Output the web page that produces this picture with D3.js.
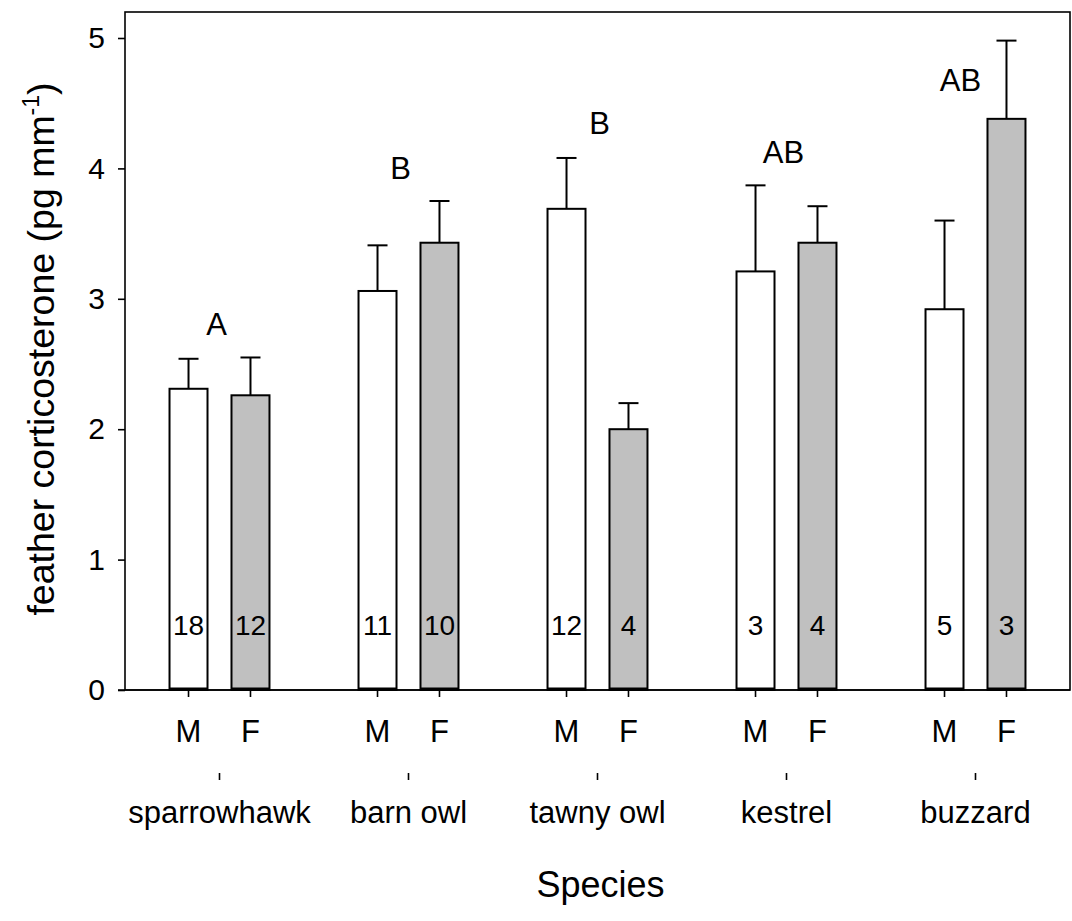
<!DOCTYPE html>
<html>
<head>
<meta charset="utf-8">
<script src="https://cdn.jsdelivr.net/npm/d3@7"></script>
<style>
  html, body { margin: 0; padding: 0; background: #fff; }
  svg { display: block; }
  text { font-family: "Liberation Sans", Arial, sans-serif; fill: #000; }
</style>
</head>
<body>
<svg id="chart" width="1072" height="921"></svg>
<script>
// ---- data ----
const species = ["sparrowhawk", "barn owl", "tawny owl", "kestrel", "buzzard"];
const sexes = ["M", "F"];
const maleMean = [2.31, 3.06, 3.69, 3.21, 2.92];
const maleUpper = [2.54, 3.41, 4.08, 3.87, 3.60];
const femaleMean = [2.26, 3.43, 2.00, 3.43, 4.38];
const femaleUpper = [2.55, 3.75, 2.20, 3.71, 4.98];
const maleN = [18, 11, 12, 3, 5];
const femaleN = [12, 10, 4, 4, 3];
const groupLetters = ["A", "B", "B", "AB", "AB"];
const letterLevel = [2.72, 3.92, 4.26, 4.04, 4.59];
const yTicks = [0, 1, 2, 3, 4, 5];
const yTitle = "feather corticosterone (pg mm";
const xTitle = "Species";

// ---- layout ----
const svg = d3.select("#chart");
const L = 125, R = 1070, T = 12, B = 690;
const letterShift = [-3, -8, 2, -3, -15]; // layout nudges (px) for letters

const y = d3.scaleLinear().domain([0, 5]).range([B, B - 5 * 130.4]);
const x0 = d3.scaleBand().domain(species).range([L, R]).padding(0);
const x1 = d3.scaleBand().domain(sexes).range([-62, 62]).paddingInner(0.387).paddingOuter(0.194);

const rows = [];
species.forEach((s, i) => {
  rows.push({sp: s, sex: "M", mean: maleMean[i], up: maleUpper[i], n: maleN[i]});
  rows.push({sp: s, sex: "F", mean: femaleMean[i], up: femaleUpper[i], n: femaleN[i]});
});
const cx = d => x0(d.sp) + x0.bandwidth() / 2 + x1(d.sex) + x1.bandwidth() / 2;

// frame
svg.append("rect").attr("x", L).attr("y", T).attr("width", R - L).attr("height", B - T)
  .attr("fill", "none").attr("stroke", "#000").attr("stroke-width", 1.6);

// error bars
const eb = svg.append("g").attr("stroke", "#000").attr("stroke-width", 2);
rows.forEach(d => {
  eb.append("line").attr("x1", cx(d)).attr("x2", cx(d)).attr("y1", y(d.mean)).attr("y2", y(d.up));
  eb.append("line").attr("x1", cx(d) - 10).attr("x2", cx(d) + 10).attr("y1", y(d.up)).attr("y2", y(d.up));
});

// bars
svg.append("g").selectAll("rect").data(rows).join("rect")
  .attr("x", d => cx(d) - x1.bandwidth() / 2)
  .attr("width", x1.bandwidth())
  .attr("y", d => y(d.mean))
  .attr("height", d => y(0) - y(d.mean))
  .attr("fill", d => d.sex === "M" ? "#ffffff" : "#c0c0c0")
  .attr("stroke", "#000").attr("stroke-width", 2);

// thick base of bars
svg.append("g").selectAll("line").data(rows).join("line")
  .attr("x1", d => cx(d) - x1.bandwidth() / 2).attr("x2", d => cx(d) + x1.bandwidth() / 2)
  .attr("y1", y(0) - 1).attr("y2", y(0) - 1)
  .attr("stroke", "#000").attr("stroke-width", 3);

// n labels
svg.append("g").selectAll("text").data(rows).join("text")
  .attr("x", cx).attr("y", 635)
  .attr("text-anchor", "middle").attr("font-size", 28)
  .text(d => d.n);

// group letters
svg.append("g").selectAll("text").data(species).join("text")
  .attr("x", (s, i) => x0(s) + x0.bandwidth() / 2 + letterShift[i])
  .attr("y", (s, i) => y(letterLevel[i]))
  .attr("text-anchor", "middle").attr("font-size", 31)
  .text((s, i) => groupLetters[i]);

// y axis
const yAxis = d3.axisLeft(y).tickValues(yTicks).tickSize(7).tickPadding(13).tickFormat(d3.format("d"));
const gy = svg.append("g").attr("transform", `translate(${L},0)`).call(yAxis);
gy.select(".domain").remove();
gy.selectAll(".tick line").attr("stroke", "#000").attr("stroke-width", 1.6);
gy.selectAll(".tick text").attr("font-size", 30).attr("font-family", "Liberation Sans, Arial, sans-serif").attr("fill", "#000");

// x axis bottom line
svg.append("line").attr("x1", L - 7).attr("x2", R).attr("y1", B).attr("y2", B)
  .attr("stroke", "#000").attr("stroke-width", 1.6);

// sex ticks and labels
const sexG = svg.append("g");
sexG.selectAll("line").data(rows).join("line")
  .attr("x1", cx).attr("x2", cx).attr("y1", B).attr("y2", B + 7)
  .attr("stroke", "#000").attr("stroke-width", 1.6);
sexG.selectAll("text").data(rows).join("text")
  .attr("x", cx).attr("y", 742).attr("text-anchor", "middle").attr("font-size", 31)
  .text(d => d.sex);

// species axis
const xAxis = d3.axisBottom(x0).tickSize(7).tickPadding(12);
const gx = svg.append("g").attr("transform", "translate(0,773)").call(xAxis);
gx.select(".domain").remove();
gx.selectAll(".tick line").attr("stroke", "#000").attr("stroke-width", 1.6);
gx.selectAll(".tick text").attr("font-size", 31).attr("font-family", "Liberation Sans, Arial, sans-serif")
  .attr("fill", "#000").attr("dy", null).attr("y", 50);

// titles
svg.append("text").attr("x", (L + R) / 2 + 3).attr("y", 897).attr("text-anchor", "middle")
  .attr("font-size", 36).text(xTitle);

const yt = svg.append("text").attr("transform", `translate(54,349) rotate(-90)`)
  .attr("text-anchor", "middle").attr("font-size", 37.5);
yt.append("tspan").text(yTitle);
yt.append("tspan").attr("font-size", 23).attr("dy", -15).text("-1");
yt.append("tspan").attr("dy", 15).text(")");
</script>
</body>
</html>
